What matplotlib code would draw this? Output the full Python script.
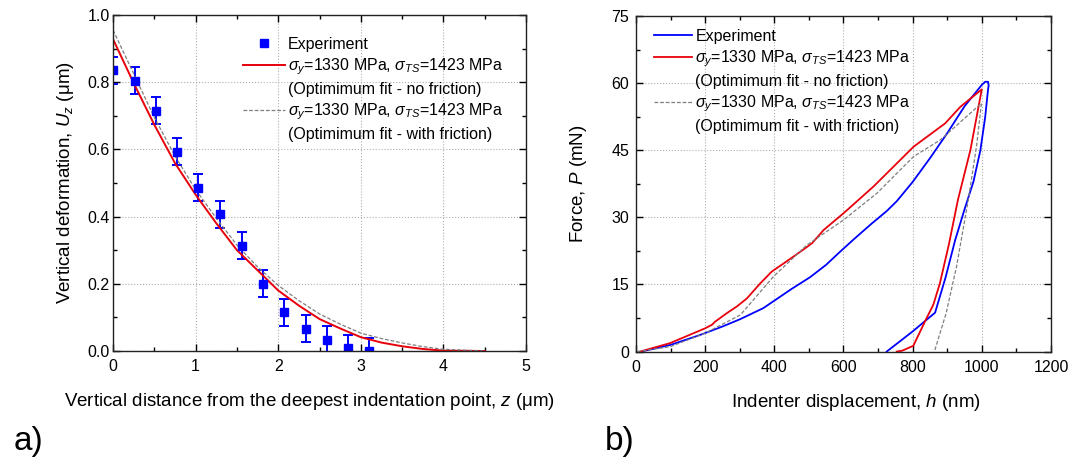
import matplotlib
matplotlib.use("Agg")
import matplotlib.pyplot as plt
from matplotlib.lines import Line2D
from matplotlib.ticker import MultipleLocator

plt.rcParams['font.family'] = ['Liberation Sans', 'DejaVu Sans']
plt.rcParams['mathtext.fontset'] = 'custom'
plt.rcParams['mathtext.rm'] = 'Liberation Sans'
plt.rcParams['mathtext.it'] = 'Liberation Sans:italic'
plt.rcParams['font.size'] = 11.5

# --- panel a) data: vertical deformation profile
exp_z = [0.0, 0.267, 0.525, 0.78, 1.034, 1.29, 1.555, 1.81, 2.07, 2.33, 2.585, 2.84, 3.10]
exp_u = [0.836, 0.804, 0.715, 0.593, 0.486, 0.407, 0.313, 0.200, 0.115, 0.066, 0.034, 0.008, 0.0]
exp_err = [0.04, 0.04, 0.04, 0.04, 0.04, 0.04, 0.04, 0.04, 0.04, 0.04, 0.04, 0.04, 0.04]

fit_z = [0, 0.25, 0.5, 0.75, 1.0, 1.25, 1.5, 1.75, 2.0, 2.25, 2.5, 2.75, 3.0, 3.25, 3.5, 3.75, 4.0, 4.5]
nofric_u = [0.928, 0.797, 0.673, 0.559, 0.465, 0.38, 0.30, 0.24, 0.18, 0.135, 0.095, 0.067, 0.041, 0.025, 0.014, 0.006, 0.001, 0.0]
fric_u = [0.955, 0.825, 0.695, 0.58, 0.48, 0.395, 0.315, 0.25, 0.195, 0.15, 0.11, 0.08, 0.053, 0.037, 0.024, 0.013, 0.005, 0.0]

# --- panel b) data: load-displacement curves
blue_h = [20, 50, 100, 185, 250, 300, 368, 450, 503, 550, 590, 627, 680, 725, 754, 800, 850, 900, 950,
          1000, 1010, 1018, 1020, 1018, 1010, 996, 976, 951, 923, 895, 865, 800, 725]
blue_p = [0.1, 0.6, 1.5, 3.7, 5.6, 7.2, 9.7, 14.0, 16.6, 19.4, 22.3, 24.9, 28.5, 31.4, 33.6, 37.9, 43.2, 48.8, 54.8,
          59.6, 60.3, 60.3, 59.5, 58.5, 52.5, 45.0, 38.0, 32.0, 24.9, 16.5, 8.7, 4.5, 0.0]

red_h = [12, 99, 200, 220, 229, 263, 292, 321, 360, 393, 427, 475, 509, 543, 600, 687, 803, 894, 938, 1000,
         967, 931, 905, 879, 860, 840, 802, 770, 754]
red_p = [0.0, 1.9, 5.2, 6.0, 6.7, 8.6, 10.1, 11.9, 15.3, 17.9, 19.7, 22.3, 24.2, 27.2, 30.9, 36.9, 45.8, 51.0, 54.7, 58.6,
         45.0, 33.9, 24.0, 15.3, 10.5, 7.4, 1.3, 0.2, 0.0]

gray_h = [3, 99, 200, 302, 398, 494, 600, 697, 803, 880, 999, 985, 961, 927, 897, 863]
gray_p = [0.0, 1.1, 4.1, 8.2, 16.8, 23.8, 29.4, 35.4, 43.6, 47.3, 55.5, 46.0, 33.9, 19.0, 8.6, 0.0]

fit_label = "$\\sigma_y$=1330 MPa, $\\sigma_{TS}$=1423 MPa"

BLUE = '#0000ff'
RED = '#e8000b'
GRAY = '#7f7f7f'
DASH = (0, (3, 1.5))

fig = plt.figure(figsize=(10.84, 4.62), dpi=100)
ax1 = fig.add_axes([0.1043, 0.2403, 0.381, 0.7273])
ax2 = fig.add_axes([0.5867, 0.239, 0.3828, 0.7264])


def style_axes(ax, ypad):
    ax.tick_params(which='both', direction='in', top=True, right=True, width=1.0, labelsize=11.5)
    ax.tick_params(which='major', length=5)
    ax.tick_params(which='minor', length=3)
    ax.tick_params(axis='y', pad=ypad)
    ax.tick_params(axis='x', pad=6)
    ax.grid(True, which='major', linestyle=':', color='#b0b0b0', linewidth=0.8)
    ax.set_axisbelow(True)
    for s in ax.spines.values():
        s.set_linewidth(1.0)
        s.set_color('#222222')


# panel a
ax1.errorbar(exp_z, exp_u, yerr=exp_err, fmt='s', color=BLUE, ms=5.5, elinewidth=1.4, capsize=3.5, capthick=1.4)
ax1.plot(fit_z, nofric_u, color=RED, lw=1.4)
ax1.plot(fit_z, fric_u, color=GRAY, lw=0.9, ls=DASH)
ax1.set_xlim(0, 5)
ax1.set_ylim(0, 1.0)
ax1.xaxis.set_major_locator(MultipleLocator(1))
ax1.xaxis.set_minor_locator(MultipleLocator(0.5))
ax1.yaxis.set_major_locator(MultipleLocator(0.2))
ax1.yaxis.set_minor_locator(MultipleLocator(0.1))
ax1.set_xticks([0, 1, 2, 3, 4, 5], ['0', '1', '2', '3', '4', '5'])
style_axes(ax1, 2.5)
ax1.set_xlabel("Vertical distance from the deepest indentation point, $z$ (μm)", fontsize=13.5)
ax1.xaxis.set_label_coords(0.475, -0.12)
ax1.set_ylabel("Vertical deformation, $U_z$ (μm)", fontsize=13.5, labelpad=8)

blank = Line2D([], [], linestyle='none')
h1 = [Line2D([], [], ls='none', marker='s', color=BLUE, ms=5.5),
      Line2D([], [], color=RED, lw=1.4), blank,
      Line2D([], [], color=GRAY, lw=0.9, ls=DASH), blank]
l1 = ["Experiment", fit_label, "(Optimimum fit - no friction)", fit_label, "(Optimimum fit - with friction)"]
ax1.legend(h1, l1, loc='upper left', bbox_to_anchor=(0.315, 0.935), frameon=False, fontsize=11.5,
           handlelength=2.6, handletextpad=0.2, labelspacing=0.3, borderpad=0, borderaxespad=0)

# panel b
ax2.plot(blue_h, blue_p, color=BLUE, lw=1.3)
ax2.plot(red_h, red_p, color=RED, lw=1.3)
ax2.plot(gray_h, gray_p, color=GRAY, lw=0.9, ls=DASH)
ax2.set_xlim(0, 1200)
ax2.set_ylim(0, 75)
ax2.xaxis.set_major_locator(MultipleLocator(200))
ax2.xaxis.set_minor_locator(MultipleLocator(100))
ax2.yaxis.set_major_locator(MultipleLocator(15))
ax2.yaxis.set_minor_locator(MultipleLocator(7.5))
style_axes(ax2, 5)
ax2.set_xlabel("Indenter displacement, $h$ (nm)", fontsize=13.5)
ax2.xaxis.set_label_coords(0.53, -0.12)
ax2.set_ylabel("Force, $P$ (mN)", fontsize=13.5, labelpad=16)

h2 = [Line2D([], [], color=BLUE, lw=1.3),
      Line2D([], [], color=RED, lw=1.3), blank,
      Line2D([], [], color=GRAY, lw=0.9, ls=DASH), blank]
l2 = ["Experiment", fit_label, "(Optimimum fit - no friction)", fit_label, "(Optimimum fit - with friction)"]
ax2.legend(h2, l2, loc='upper left', bbox_to_anchor=(0.043, 0.962), frameon=False, fontsize=11.5,
           handlelength=2.4, handletextpad=0.2, labelspacing=0.3, borderpad=0, borderaxespad=0)

fig.text(0.013, 0.026, "a)", fontsize=24)
fig.text(0.558, 0.026, "b)", fontsize=24)

fig.savefig("out.png", dpi=100)
